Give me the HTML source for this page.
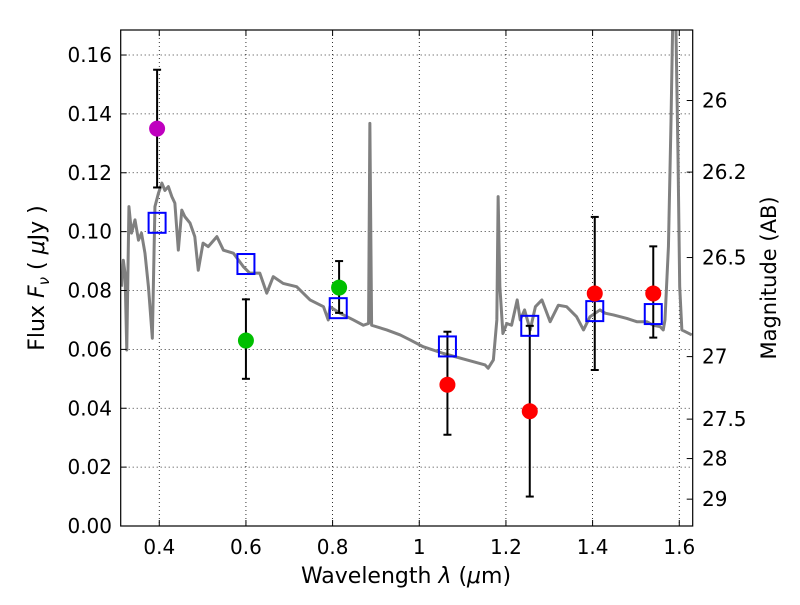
<!DOCTYPE html>
<html><head><meta charset="utf-8"><style>
body{margin:0;background:#fff;}
svg text{font-family:"DejaVu Sans","Liberation Sans",sans-serif;fill:#000;}
</style></head><body>
<svg id="chart" width="800" height="600" xmlns="http://www.w3.org/2000/svg">
<defs><clipPath id="clip"><rect x="120.7" y="30" width="572" height="496"/></clipPath></defs>
<rect x="0" y="0" width="800" height="600" fill="#fff"/>
<g id="grid"></g>
<g id="spec" clip-path="url(#clip)"></g>
<g id="marks"></g>
<rect x="120.7" y="30" width="572" height="496" fill="none" stroke="#000" stroke-width="1.2"/>
<g id="axes"></g>
<text x="406" y="583" text-anchor="middle" font-size="22">Wavelength  <tspan font-style="italic">λ</tspan> (<tspan font-style="italic">μ</tspan>m)</text>
<text transform="translate(44,278) rotate(-90)" text-anchor="middle" font-size="22">Flux  <tspan font-style="italic">F</tspan><tspan font-style="italic" font-size="15" dy="5">ν</tspan><tspan dy="-5">  ( </tspan><tspan font-style="italic">μ</tspan>Jy )</text>
<text transform="translate(776,278) rotate(-90)" text-anchor="middle" font-size="21">Magnitude (AB)</text>
</svg>
<script>
const xTicks=[0.4,0.6,0.8,1.0,1.2,1.4,1.6];
const xTickLabels=["0.4","0.6","0.8","1","1.2","1.4","1.6"];
const yTicks=[0,0.02,0.04,0.06,0.08,0.10,0.12,0.14,0.16];
const yTickLabels=["0.00","0.02","0.04","0.06","0.08","0.10","0.12","0.14","0.16"];
const magTicks=[26,26.2,26.5,27,27.5,28,29];
const magTickLabels=["26","26.2","26.5","27","27.5","28","29"];
const specLam=[0.313,0.317,0.321,0.325,0.330,0.336,0.344,0.352,0.359,0.367,0.375,0.384,0.390,0.398,0.406,0.413,0.421,0.429,0.436,0.444,0.452,0.459,0.471,0.482,0.490,0.501,0.513,0.533,0.548,0.571,0.594,0.609,0.632,0.648,0.663,0.686,0.717,0.748,0.779,0.790,0.794,0.817,0.848,0.871,0.883,0.886,0.890,0.925,0.956,0.979,1.009,1.056,1.110,1.152,1.159,1.171,1.179,1.182,1.186,1.193,1.202,1.213,1.226,1.233,1.243,1.256,1.268,1.283,1.302,1.321,1.340,1.363,1.379,1.394,1.417,1.429,1.448,1.479,1.502,1.525,1.540,1.556,1.563,1.567,1.575,1.581,1.585,1.592,1.597,1.601,1.606,1.629];
const specFlux=[0.0813,0.0903,0.0859,0.0598,0.1085,0.0995,0.104,0.0971,0.0995,0.0927,0.0813,0.0638,0.1085,0.113,0.1165,0.114,0.1153,0.1119,0.1097,0.0937,0.1073,0.1051,0.1029,0.0983,0.0869,0.0961,0.0949,0.0983,0.0937,0.0927,0.0881,0.0859,0.0859,0.0791,0.0847,0.0824,0.0813,0.0768,0.0745,0.0700,0.0745,0.0723,0.0700,0.0682,0.0688,0.1368,0.0682,0.0666,0.0649,0.0632,0.0609,0.0586,0.0564,0.0547,0.0536,0.0564,0.0700,0.1119,0.0813,0.0654,0.0688,0.0682,0.0768,0.0700,0.0734,0.0666,0.0745,0.0768,0.0694,0.0750,0.0745,0.0711,0.0666,0.0711,0.0734,0.0723,0.0717,0.0705,0.0694,0.0694,0.0682,0.0677,0.0666,0.0700,0.0949,0.1380,0.1720,0.1720,0.1266,0.0813,0.0666,0.0649];
const modelLam=[0.395,0.600,0.813,1.065,1.255,1.405,1.540];
const modelFlux=[0.103,0.089,0.074,0.061,0.068,0.073,0.072];
const obsLam=[0.395,0.600,0.815,1.065,1.255,1.405,1.540];
const obsFlux=[0.135,0.063,0.081,0.048,0.039,0.079,0.079];
const obsLo=[0.115,0.050,0.0724,0.031,0.010,0.053,0.064];
const obsHi=[0.155,0.077,0.090,0.066,0.068,0.105,0.095];
const obsColor=["#bf00bf","#00bf00","#00bf00","#ff0000","#ff0000","#ff0000","#ff0000"];

const X0=120.7,X1=692.7,Y0=526,Y1=30,L0=0.311,L1=1.631,F0=0,F1=0.1685;
const sx=v=>X0+(v-L0)/(L1-L0)*(X1-X0);
const sy=v=>Y0-(v-F0)/(F1-F0)*(Y0-Y1);
const mag2f=m=>Math.pow(10,(23.9-m)/2.5);
const NS='http://www.w3.org/2000/svg';
function mk(t,a,p){const e=document.createElementNS(NS,t);for(const k in a)e.setAttribute(k,a[k]);p.appendChild(e);return e;}
const grid=document.getElementById('grid'),axes=document.getElementById('axes'),spec=document.getElementById('spec'),marks=document.getElementById('marks');

xTicks.forEach((v,i)=>{const x=sx(v);
 const g=mk('line',{x1:x,x2:x,y1:Y1,y2:Y0,stroke:'#000','stroke-width':0.8,'stroke-dasharray':'1,3'},grid);
 
 
 mk('line',{x1:x,x2:x,y1:Y0,y2:Y0-6,stroke:'#000'},axes);
 mk('line',{x1:x,x2:x,y1:Y1,y2:Y1+6,stroke:'#000'},axes);
 const t=mk('text',{x:x,y:554,'text-anchor':'middle','font-size':20},axes);t.textContent=xTickLabels[i];
 
 
});
yTicks.forEach((v,i)=>{const y=sy(v);
 const g=mk('line',{x1:X0,x2:X1,y1:y,y2:y,stroke:'#000','stroke-width':0.8,'stroke-dasharray':'1,3'},grid);
 
 
 mk('line',{x1:X0,x2:X0+6,y1:y,y2:y,stroke:'#000'},axes);
 const t=mk('text',{x:112,y:y+7,'text-anchor':'end','font-size':20},axes);t.textContent=yTickLabels[i];
 
 
});
magTicks.forEach((m,i)=>{const y=sy(mag2f(m));
 mk('line',{x1:X1,x2:X1-6,y1:y,y2:y,stroke:'#000'},axes);
 const t=mk('text',{x:702,y:y+7,'text-anchor':'start','font-size':20},axes);t.textContent=magTickLabels[i];
 
 
});
const pl=mk('polyline',{points:specLam.map((l,i)=>sx(l)+','+sy(specFlux[i])).join(' '),fill:'none',stroke:'#808080','stroke-width':3,'stroke-linejoin':'round'},spec);


obsLam.forEach((l,i)=>{const x=sx(l);
 const e=mk('g',{},marks);
 
 
 mk('line',{x1:x,x2:x,y1:sy(obsLo[i]),y2:sy(obsHi[i]),stroke:'#000','stroke-width':2},e);
 mk('line',{x1:x-4,x2:x+4,y1:sy(obsLo[i]),y2:sy(obsLo[i]),stroke:'#000','stroke-width':2},e);
 mk('line',{x1:x-4,x2:x+4,y1:sy(obsHi[i]),y2:sy(obsHi[i]),stroke:'#000','stroke-width':2},e);
});
modelLam.forEach((l,i)=>{
 const r=mk('rect',{x:sx(l)-8.5,y:sy(modelFlux[i])-10,width:17,height:20,fill:'none',stroke:'#0000ff','stroke-width':2},marks);
 
 
});
obsLam.forEach((l,i)=>{
 const c=mk('circle',{cx:sx(l),cy:sy(obsFlux[i]),r:8,fill:obsColor[i]},marks);
 
 
});
</script>
</body></html>
